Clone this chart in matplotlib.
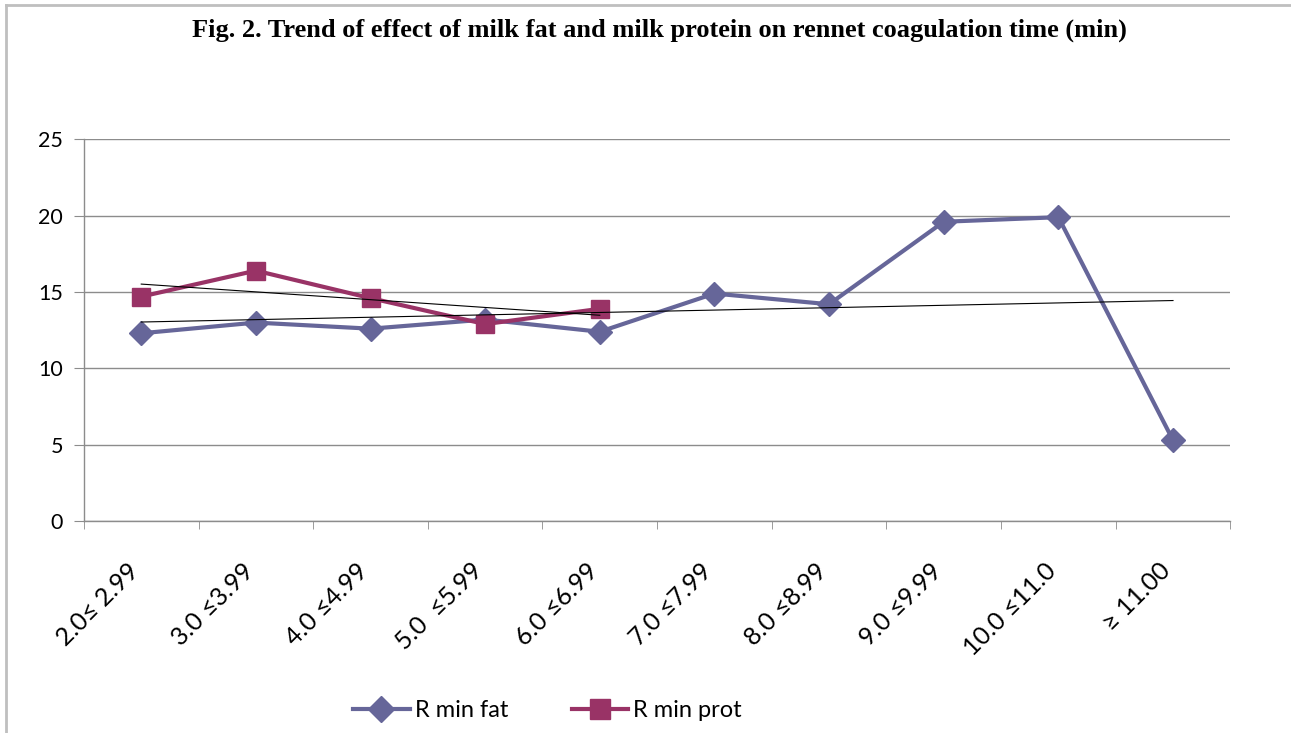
import numpy as np
import matplotlib
matplotlib.use("Agg")
import matplotlib.pyplot as plt
from matplotlib.lines import Line2D
from matplotlib.transforms import ScaledTranslation

# categorias de grasa / proteina (%)
categorias = ["2.0≤ 2.99", "3.0 ≤3.99", "4.0 ≤4.99", "5.0  ≤5.99", "6.0 ≤6.99",
              "7.0 ≤7.99", "8.0 ≤8.99", "9.0 ≤9.99", "10.0 ≤11.0", "≥ 11.00"]
r_min_fat = [12.3, 13.0, 12.6, 13.2, 12.4, 14.9, 14.2, 19.6, 19.9, 5.3]
r_min_prot = [14.7, 16.4, 14.6, 12.9, 13.9]
y_ticks = [0, 5, 10, 15, 20, 25]

color_fat = "#666699"
color_prot = "#993366"
gris = "#8c8c8c"

plt.rcParams['font.family'] = ['Lato', 'DejaVu Sans']

fig = plt.figure(figsize=(12.91, 7.33), dpi=100)
ax = fig.add_axes([0.065, 0.289, 0.888, 0.521])

x_fat = np.arange(1, len(r_min_fat) + 1)
x_prot = np.arange(1, len(r_min_prot) + 1)

ax.plot(x_fat, r_min_fat, color=color_fat, lw=3, marker="D", markersize=12,
        zorder=3, solid_joinstyle="round")
ax.plot(x_prot, r_min_prot, color=color_prot, lw=3, marker="s", markersize=13,
        zorder=4, solid_joinstyle="round")

# lineas de tendencia (ajuste lineal)
for xs, ys in [(x_fat, r_min_fat), (x_prot, r_min_prot)]:
    m, b = np.polyfit(xs, ys, 1)
    ax.plot(xs, m * xs + b, color="black", lw=0.8, zorder=5)

ax.set_xlim(0.5, len(categorias) + 0.5)
ax.set_ylim(0, 25)
ax.set_yticks(y_ticks)
ax.yaxis.grid(True, color=gris, lw=1)
ax.set_axisbelow(True)

for s in ["top", "right"]:
    ax.spines[s].set_visible(False)
for s in ["left", "bottom"]:
    ax.spines[s].set_color(gris)
    ax.spines[s].set_linewidth(1)

ax.tick_params(axis="y", length=7, color=gris, labelsize=15.5, pad=8)
ax.set_xticks(x_fat)
ax.set_xticks(np.arange(0.5, len(categorias) + 1), minor=True)
ax.tick_params(axis="x", which="minor", length=6, color=gris)
ax.tick_params(axis="x", which="major", length=0, pad=33, labelsize=18)
ax.set_xticklabels(categorias, rotation=45, ha="right", va="center",
                   rotation_mode="anchor")
offset = ScaledTranslation(-6 / 100, 0, fig.dpi_scale_trans)
for lab in ax.get_xticklabels():
    lab.set_transform(lab.get_transform() + offset)

fig.text(0.511, 0.958, "Fig. 2. Trend of effect of milk fat and milk protein on rennet coagulation time (min)",
         ha="center", va="center", fontsize=19, fontweight="bold",
         family="Liberation Serif")

handles = [Line2D([], [], color=color_fat, lw=3, marker="D", markersize=13),
           Line2D([], [], color=color_prot, lw=3, marker="s", markersize=14)]
fig.legend(handles, ["R min fat", "R min prot"], loc="center",
           bbox_to_anchor=(0.424, 0.031), ncol=2, frameon=False, fontsize=17,
           handlelength=2.4, handletextpad=0.2, columnspacing=2.7)

# marco de la figura (solo arriba e izquierda)
fig.add_artist(Line2D([6 / 1291, 6 / 1291], [0, 1 - 5 / 733], color="#bfbfbf", lw=2))
fig.add_artist(Line2D([6 / 1291, 1], [1 - 5 / 733, 1 - 5 / 733], color="#bfbfbf", lw=2))

fig.savefig("out.png", dpi=100, facecolor="white")
